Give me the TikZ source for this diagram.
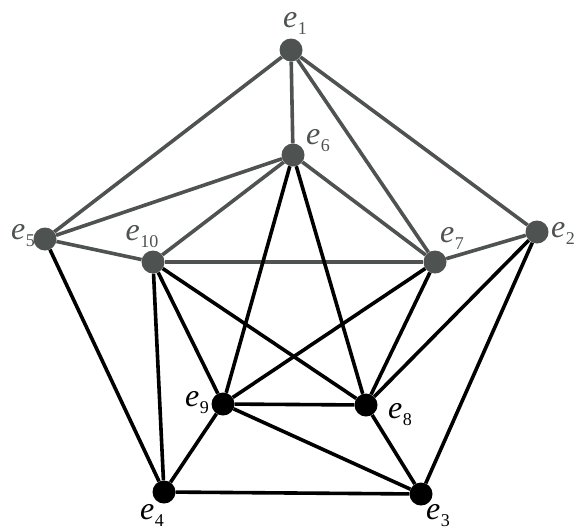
\documentclass[tikz,border=0pt]{standalone}
\usepackage{fontspec}
\setmainfont{Liberation Serif}
\definecolor{topc}{RGB}{78,82,80}
\newcommand{\lab}[1]{\textit{e}\kern0.5pt\raisebox{-7pt}{\fontsize{18}{18}\selectfont #1}}
\begin{document}
\begin{tikzpicture}[x=1pt,y=-1pt,
  vtx/.style={circle,fill=#1,inner sep=0pt,minimum size=23pt},
  vtx/.default=black,
  edge/.style={line width=3.6pt,draw=#1},
  edge/.default=black,
  lbl/.style={inner sep=0pt,text=#1,font=\fontsize{32}{32}\selectfont},
  lbl/.default=black]
\useasboundingbox (0,0) rectangle (577,531);
% vertices
\node[vtx=topc] (e1) at (291,50) {};
\node[vtx=topc] (e6) at (293,155) {};
\node[vtx=topc] (e5) at (45,239) {};
\node[vtx=topc] (e10) at (153,262) {};
\node[vtx=topc] (e7) at (435,262) {};
\node[vtx=topc] (e2) at (537,232) {};
\node[vtx] (e9) at (223,404) {};
\node[vtx] (e8) at (366,405) {};
\node[vtx] (e4) at (164,492) {};
\node[vtx] (e3) at (421,494) {};
% edges (upper part)
\foreach \a/\b in {e1/e5,e1/e6,e1/e7,e1/e2,e6/e5,e6/e10,e6/e7,e5/e10,e10/e7,e7/e2}
  \draw[edge=topc] (\a) -- (\b);
% edges (lower part)
\foreach \a/\b in {e6/e9,e6/e8,e5/e4,e10/e4,e10/e9,e10/e8,e7/e9,e7/e8,e2/e8,e2/e3,e9/e8,e9/e4,e9/e3,e8/e3,e4/e3}
  \draw[edge] (\a) -- (\b);
% labels
\node[lbl=topc] (l1) at (295,23) {\lab{1}};
\node[lbl=topc] (l6) at (318,141) {\lab{6}};
\node[lbl=topc] (l5) at (23,236) {\lab{5}};
\node[lbl=topc] (l10) at (142,237) {\lab{10}};
\node[lbl=topc] (l7) at (452,238) {\lab{7}};
\node[lbl=topc] (l2) at (563,233) {\lab{2}};
\node[lbl] (l9) at (197,403) {\lab{9}};
\node[lbl] (l8) at (400,415) {\lab{8}};
\node[lbl] (l4) at (152,515) {\lab{4}};
\node[lbl] (l3) at (438,516) {\lab{3}};
\end{tikzpicture}
\end{document}
